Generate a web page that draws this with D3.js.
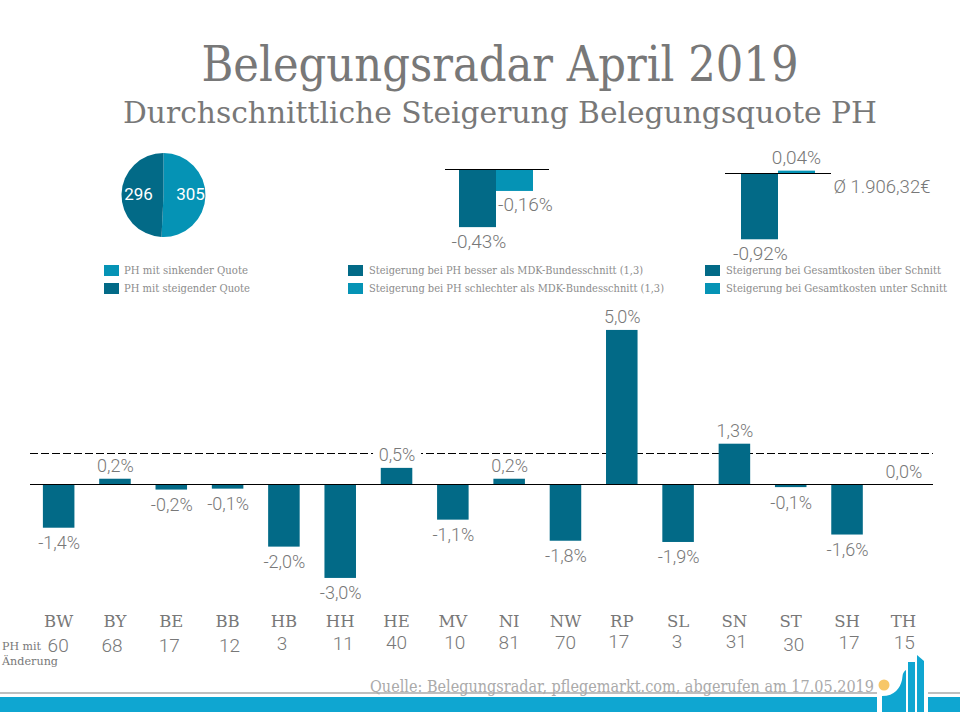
<!DOCTYPE html>
<html>
<head>
<meta charset="utf-8">
<script src="https://cdnjs.cloudflare.com/ajax/libs/d3/7.8.5/d3.min.js"></script>
<style>
  html, body { margin: 0; padding: 0; background: #fff; }
  svg { display: block; }
</style>
</head>
<body>
<div id="chart"></div>
<script>
const states = ["BW","BY","BE","BB","HB","HH","HE","MV","NI","NW","RP","SL","SN","ST","SH","TH"];
const stateChange = [-1.41,0.17,-0.18,-0.15,-2.02,-3.03,0.52,-1.15,0.17,-1.83,4.97,-1.87,1.3,-0.1,-1.63,0];
const changeLabels = ["-1,4%","0,2%","-0,2%","-0,1%","-2,0%","-3,0%","0,5%","-1,1%","0,2%","-1,8%","5,0%","-1,9%","1,3%","-0,1%","-1,6%","0,0%"];
const homesChanged = [60,68,17,12,3,11,40,10,81,70,17,3,31,30,17,15];
const average = 0.97;

const pieCounts = [305, 296];
const mdkValues = [-0.43, -0.16];
const mdkLabels = ["-0,43%", "-0,16%"];
const costValues = [-0.92, 0.04];
const costLabels = ["-0,92%", "0,04%"];

const legendPie = ["PH mit sinkender Quote", "PH mit steigender Quote"];
const legendMdk = ["Steigerung bei PH besser als MDK-Bundesschnitt (1,3)", "Steigerung bei PH schlechter als MDK-Bundesschnitt (1,3)"];
const legendCost = ["Steigerung bei Gesamtkosten über Schnitt", "Steigerung bei Gesamtkosten unter Schnitt"];

// the counts under the chart were placed by hand in the original
const countNudgeX = [-0.5,-3,-2,2,-2,3,0,2,0,0,-3,-1,2,3,2,1];
const countNudgeY = [3.5,3,3,3.5,1,1,0,0,0,0,-1,-1,-1,2,0,0];

const dark = "#026a87";
const light = "#0593b5";
const footerBlue = "#0fa6d1";
const grey = "#787878";
const slab = "'DejaVu Serif', serif";
const light300 = "Roboto, sans-serif";

const svg = d3.select("#chart").append("svg")
    .attr("width", 960)
    .attr("height", 720);

// text squeezed to the width it has in the reference
function fitText(x, y, str, size, len, color, anchor = "start") {
    return svg.append("text")
        .attr("x", x)
        .attr("y", y)
        .attr("text-anchor", anchor)
        .attr("font-family", slab)
        .attr("font-size", size)
        .attr("fill", color)
        .attr("textLength", len)
        .attr("lengthAdjust", "spacingAndGlyphs")
        .text(str);
}

function numText(x, y, str, size = 18, color = grey) {
    return svg.append("text")
        .attr("x", x)
        .attr("y", y)
        .attr("text-anchor", "middle")
        .attr("dominant-baseline", "central")
        .attr("font-family", light300)
        .attr("font-weight", 300)
        .attr("font-size", size)
        .attr("fill", color)
        .text(str);
}

fitText(500, 81, "Belegungsradar April 2019", 49, 597, grey, "middle");
fitText(500, 123, "Durchschnittliche Steigerung Belegungsquote PH", 30, 754, grey, "middle");

// pie
const pie = d3.pie().sort(null)(pieCounts);
const arc = d3.arc().innerRadius(0).outerRadius(42);
const pieG = svg.append("g").attr("transform", "translate(163.5,195)");
pieG.selectAll("path")
    .data(pie)
    .enter().append("path")
    .attr("d", arc)
    .attr("fill", (d, i) => i == 0 ? light : dark);
pieG.selectAll("text")
    .data(pie)
    .enter().append("text")
    .attr("x", (d, i) => i == 0 ? 27 : -25)
    .attr("y", -1)
    .attr("text-anchor", "middle")
    .attr("dominant-baseline", "central")
    .attr("font-family", "Roboto, sans-serif")
    .attr("font-size", 17)
    .attr("fill", "#fff")
    .text(d => d.value);

// the two small bar charts
function smallBars(values, labels, colors, left, zeroY, pxPerUnit, lineX, labelPos) {
    const x = d3.scaleBand().domain(values.map((d, i) => i)).range([left, left + 74]);
    const y = d3.scaleLinear().domain([0, 1]).range([zeroY, zeroY - pxPerUnit]);
    svg.selectAll(null)
        .data(values)
        .enter().append("rect")
        .attr("x", (d, i) => x(i))
        .attr("width", x.bandwidth())
        .attr("y", d => Math.min(y(d), y(0)))
        .attr("height", d => Math.abs(y(d) - y(0)))
        .attr("fill", (d, i) => colors[i]);
    svg.append("line")
        .attr("x1", lineX[0]).attr("x2", lineX[1])
        .attr("y1", zeroY).attr("y2", zeroY)
        .attr("stroke", "#000");
    values.forEach((d, i) => {
        numText(x(i) + x.bandwidth() / 2 + labelPos[i], d < 0 ? y(d) + 14 : y(d) - 13, labels[i], 19);
    });
}
smallBars(mdkValues, mdkLabels, [dark, light], 459, 169.5, 134, [445, 549], [1.5, 11]);
smallBars(costValues, costLabels, [dark, light], 741, 173.5, 71.5, [725, 831], [1, 0]);
numText(882, 187, "Ø 1.906,32€", 18.5);

// legends
function legend(names, swatchX, textX, lens, colors) {
    names.forEach((n, i) => {
        svg.append("rect")
            .attr("x", swatchX).attr("y", 265 + i * 18)
            .attr("width", 15).attr("height", 11)
            .attr("fill", colors[i]);
        fitText(textX, 274 + i * 18, n, 10.5, lens[i], "#8c8c8c");
    });
}
legend(legendPie, 104, 124, [124, 126], [light, dark]);
legend(legendMdk, 348, 369, [274, 295], [dark, light]);
legend(legendCost, 705, 726, [215, 221], [dark, light]);

// main chart
const x = d3.scaleBand()
    .domain(states)
    .range([30.5, 931.5])
    .paddingInner(0.44)
    .paddingOuter(0.22);
const y = d3.scaleLinear()
    .domain([-3, 5])
    .range([577, 329]);

svg.append("line")
    .attr("x1", 30).attr("x2", 933)
    .attr("y1", y(average)).attr("y2", y(average))
    .attr("stroke", "#000")
    .attr("stroke-dasharray", "8,3")
    .attr("shape-rendering", "crispEdges");

svg.selectAll(".bar")
    .data(stateChange)
    .enter().append("rect")
    .attr("class", "bar")
    .attr("x", (d, i) => x(states[i]))
    .attr("width", x.bandwidth())
    .attr("y", d => Math.min(y(d), y(0)))
    .attr("height", d => Math.abs(y(d) - y(0)))
    .attr("fill", dark);

svg.append("line")
    .attr("x1", 30).attr("x2", 933)
    .attr("y1", y(0)).attr("y2", y(0))
    .attr("stroke", "#000")
    .attr("shape-rendering", "crispEdges");

stateChange.forEach((d, i) => {
    const cx = x(states[i]) + x.bandwidth() / 2 + 0.5;
    const cy = d < 0 ? y(d) + 15 : y(d) - 13;
    // labels that sit on the dashed line blank it out
    if (states[i] == "HE" || states[i] == "NI") {
        svg.append("rect")
            .attr("x", cx - 24).attr("y", cy - 11)
            .attr("width", 48).attr("height", 22)
            .attr("fill", "#fff");
    }
    numText(cx, cy, changeLabels[i], 18);
});

// state names from a band axis
const axis = svg.append("g")
    .attr("transform", "translate(0,610)")
    .call(d3.axisBottom(x).tickSize(0).tickPadding(0));
axis.select(".domain").remove();
axis.selectAll("text")
    .attr("y", 0)
    .attr("dy", "1em")
    .attr("font-family", slab)
    .attr("font-size", 16.5)
    .attr("fill", grey);

homesChanged.forEach((d, i) => {
    numText(x(states[i]) + x.bandwidth() / 2 + countNudgeX[i], 642 + countNudgeY[i], d, 19);
});
fitText(2, 650, "PH mit", 10.5, 39, grey);
fitText(2, 665, "Änderung", 10.5, 56, grey);

// footer
svg.append("line")
    .attr("x1", 0).attr("x2", 877)
    .attr("y1", 693).attr("y2", 693)
    .attr("stroke", "#aaa").attr("stroke-width", 1.5);
svg.append("line")
    .attr("x1", 928).attr("x2", 960)
    .attr("y1", 693).attr("y2", 693)
    .attr("stroke", "#aaa").attr("stroke-width", 1.5);
fitText(370, 692, "Quelle: Belegungsradar, pflegemarkt.com, abgerufen am 17.05.2019", 16.5, 504, "#aaa");

svg.append("rect").attr("x", 0).attr("y", 697).attr("width", 877).attr("height", 15).attr("fill", footerBlue);
svg.append("rect").attr("x", 928).attr("y", 697).attr("width", 32).attr("height", 15).attr("fill", footerBlue);
svg.append("rect").attr("x", 908).attr("y", 662).attr("width", 7).attr("height", 50).attr("fill", footerBlue);
svg.append("path").attr("d", "M917 655 L924 661 L924 712 L917 712 Z").attr("fill", footerBlue);
svg.append("path").attr("d", "M882 696 C895 696 900 688 902 680 C903 675 902 673 906 670 L906 712 L882 712 Z").attr("fill", footerBlue);
svg.append("circle").attr("cx", 884).attr("cy", 685).attr("r", 5.5).attr("fill", "#f7c768");
</script>
</body>
</html>
